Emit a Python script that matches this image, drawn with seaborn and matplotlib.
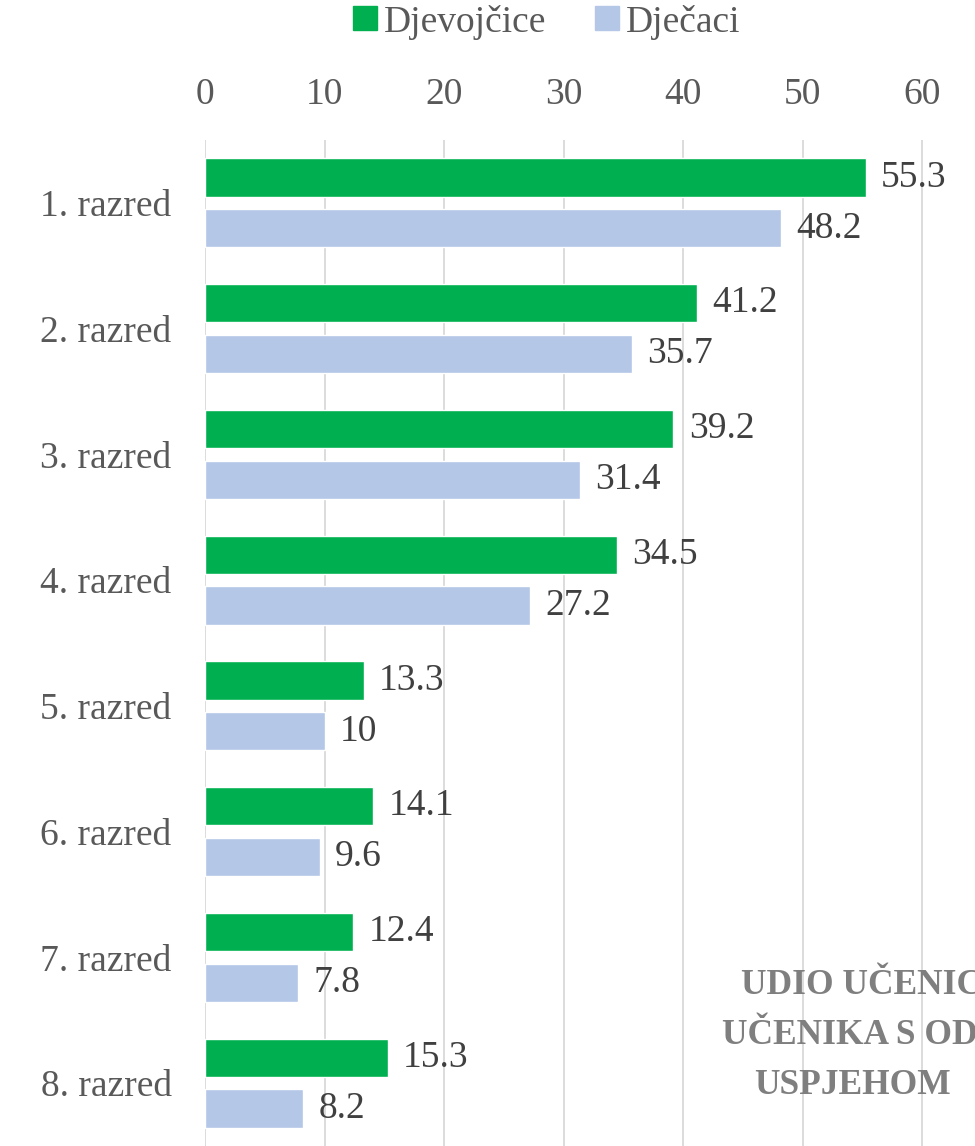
import matplotlib
matplotlib.use("Agg")
import matplotlib.pyplot as plt
import matplotlib.patches as mpatches
import pandas as pd
import seaborn as sns

# Data
razredi = ["1. razred", "2. razred", "3. razred", "4. razred",
           "5. razred", "6. razred", "7. razred", "8. razred"]
djevojcice = [55.3, 41.2, 39.2, 34.5, 13.3, 14.1, 12.4, 15.3]
djecaci = [48.2, 35.7, 31.4, 27.2, 10, 9.6, 7.8, 8.2]
spol = ["Djevojčice", "Dječaci"]
x_ticks = [0, 10, 20, 30, 40, 50, 60]

boje = {"Djevojčice": "#00B050", "Dječaci": "#B4C7E7"}
siva = "#595959"
tamna = "#404040"
fs = 27

df = pd.DataFrame({
    "razred": razredi * 2,
    "udio": djevojcice + djecaci,
    "spol": [spol[0]] * len(razredi) + [spol[1]] * len(razredi),
})

sns.set_style("white")
plt.rcParams["font.family"] = ["Liberation Serif", "DejaVu Serif"]

W, H = 975, 1146
fig = plt.figure(figsize=(W / 100, H / 100), dpi=100)
px_per_unit = 11.95
# the original chart continues past the right edge (cropped), so the axes does too
ax = fig.add_axes([205 / W, 0, 70 * px_per_unit / W, (H - 140) / H])

sns.barplot(data=df, x="udio", y="razred", hue="spol", palette=boje,
            orient="h", width=0.81, gap=0.25, ax=ax, legend=False,
            saturation=1)

for cont in ax.containers:
    labels = [f"{v:g}" for v in cont.datavalues]
    ax.bar_label(cont, labels=labels, padding=11, fontsize=fs, color=tamna)

ax.set_xlim(0, 70)
ax.set_ylim(7.5, -0.5)
ax.set_xticks(x_ticks)
ax.xaxis.tick_top()
ax.tick_params(axis="x", length=0, pad=20, labelsize=fs, labelcolor=siva)
ax.tick_params(axis="y", length=0, pad=24, labelsize=fs, labelcolor=siva)
ax.set_xlabel("")
ax.set_ylabel("")
ax.grid(axis="x", color="#D9D9D9", linewidth=1.3)
ax.set_axisbelow(True)
for s in ax.spines.values():
    s.set_visible(False)

handles = [mpatches.Patch(color=boje[s], label=s) for s in spol]
fig.legend(handles=handles, loc="center", bbox_to_anchor=(547 / W, 1 - 22 / H),
           ncol=2, frameon=False, fontsize=fs, handlelength=0.62,
           handleheight=0.62, handletextpad=0.2, columnspacing=1.3,
           labelcolor=siva)

naslov = ["UDIO UČENICA I", "UČENIKA S ODLIČNIM", "USPJEHOM"]
lijevo = [741, 722, 754]
for i, (t, x0) in enumerate(zip(naslov, lijevo)):
    fig.text(x0 / W, 1 - (985 + i * 50) / H, t, ha="left", va="center",
             fontsize=25.5, fontweight="bold", color="#7F7F7F")

fig.savefig("out.png", dpi=100)
